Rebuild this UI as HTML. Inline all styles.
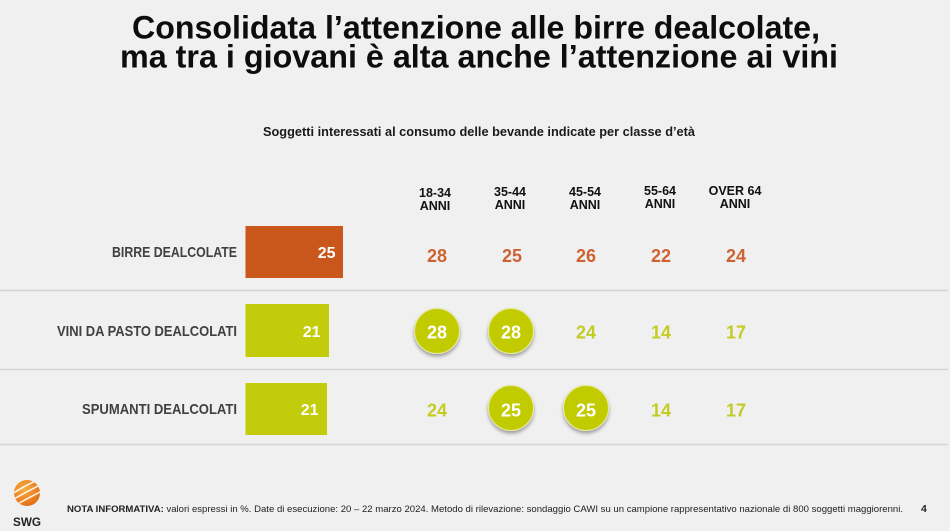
<!DOCTYPE html>
<html>
<head>
<meta charset="utf-8">
<style>
  html,body{margin:0;padding:0;background:#f0f0f0;}
  svg{display:block;}
  text{font-family:"Liberation Sans", Arial, sans-serif;}
</style>
</head>
<body>
<svg width="950" height="531" viewBox="0 0 950 531" xmlns="http://www.w3.org/2000/svg">
  <defs>
    <filter id="sh" x="-40%" y="-40%" width="180%" height="190%">
      <feDropShadow dx="0" dy="2.5" stdDeviation="1.8" flood-color="#000" flood-opacity="0.35"/>
    </filter>
    <radialGradient id="lg" cx="40%" cy="35%" r="70%">
      <stop offset="0" stop-color="#f8b040"/>
      <stop offset="1" stop-color="#e56a14"/>
    </radialGradient>
    <clipPath id="lc"><circle cx="27" cy="493" r="13"/></clipPath>
  </defs>
  <rect width="950" height="531" fill="#f0f0f0"/>

  <!-- Title -->
  <text x="132" y="38.5" font-size="32" font-weight="bold" fill="#0d0d0d" textLength="688" lengthAdjust="spacingAndGlyphs">Consolidata l’attenzione alle birre dealcolate,</text>
  <text x="120" y="67.5" font-size="32" font-weight="bold" fill="#0d0d0d" textLength="718" lengthAdjust="spacingAndGlyphs">ma tra i giovani è alta anche l’attenzione ai vini</text>

  <!-- Subtitle -->
  <text x="263" y="136" font-size="12.5" font-weight="bold" fill="#1a1a1a" textLength="432" lengthAdjust="spacingAndGlyphs">Soggetti interessati al consumo delle bevande indicate per classe d’età</text>

  <!-- Column headers -->
  <g font-size="12.5" font-weight="bold" fill="#111" text-anchor="middle">
    <text x="435" y="197">18-34</text><text x="435" y="210">ANNI</text>
    <text x="510" y="196">35-44</text><text x="510" y="209">ANNI</text>
    <text x="585" y="196">45-54</text><text x="585" y="209">ANNI</text>
    <text x="660" y="195">55-64</text><text x="660" y="208">ANNI</text>
    <text x="735" y="195">OVER 64</text><text x="735" y="208">ANNI</text>
  </g>

  <!-- Separator lines -->
  <g stroke="#d4d4d4" stroke-width="1.5">
    <line x1="0" y1="290.5" x2="948" y2="290.5"/>
    <line x1="0" y1="369.5" x2="948" y2="369.5"/>
    <line x1="0" y1="444.5" x2="948" y2="444.5"/>
  </g>

  <!-- Row labels -->
  <g font-size="15" font-weight="bold" fill="#404040">
    <text x="112" y="257" textLength="125" lengthAdjust="spacingAndGlyphs">BIRRE DEALCOLATE</text>
    <text x="57" y="336" textLength="180" lengthAdjust="spacingAndGlyphs">VINI DA PASTO DEALCOLATI</text>
    <text x="82" y="414" textLength="155" lengthAdjust="spacingAndGlyphs">SPUMANTI DEALCOLATI</text>
  </g>

  <!-- Bars -->
  <rect x="245.5" y="226" width="97.5" height="52" fill="#c9561a"/>
  <rect x="245.5" y="304" width="83.5" height="53" fill="#c3cc0b"/>
  <rect x="245.5" y="383" width="81.5" height="52" fill="#c3cc0b"/>
  <g font-size="16" font-weight="bold" fill="#fff" text-anchor="end">
    <text x="335.5" y="258">25</text>
    <text x="320.5" y="337">21</text>
    <text x="318.5" y="415">21</text>
  </g>

  <!-- Circles -->
  <g fill="#c2cb05" stroke="#e6ea9a" stroke-width="1" filter="url(#sh)">
    <circle cx="437" cy="331" r="22.5"/>
    <circle cx="511" cy="331" r="22.5"/>
    <circle cx="511" cy="408" r="22.5"/>
    <circle cx="586" cy="408" r="22.5"/>
  </g>

  <!-- Row 1 values -->
  <g font-size="18" font-weight="bold" fill="#cf6233" text-anchor="middle">
    <text x="437" y="262">28</text>
    <text x="512" y="262">25</text>
    <text x="586" y="262">26</text>
    <text x="661" y="262">22</text>
    <text x="736" y="262">24</text>
  </g>
  <!-- Row 2 values -->
  <g font-size="18" font-weight="bold" text-anchor="middle">
    <text x="437" y="338.5" fill="#fff">28</text>
    <text x="511" y="338.5" fill="#fff">28</text>
    <text x="586" y="338.5" fill="#c3cc22">24</text>
    <text x="661" y="338.5" fill="#c3cc22">14</text>
    <text x="736" y="338.5" fill="#c3cc22">17</text>
  </g>
  <!-- Row 3 values -->
  <g font-size="18" font-weight="bold" text-anchor="middle">
    <text x="437" y="416.5" fill="#c3cc22">24</text>
    <text x="511" y="416.5" fill="#fff">25</text>
    <text x="586" y="416.5" fill="#fff">25</text>
    <text x="661" y="416.5" fill="#c3cc22">14</text>
    <text x="736" y="416.5" fill="#c3cc22">17</text>
  </g>

  <!-- Logo -->
  <circle cx="27" cy="493" r="13" fill="url(#lg)"/>
  <g clip-path="url(#lc)" stroke="#fff" stroke-width="1.6" fill="none" opacity="0.9">
    <path d="M12 494 Q24 486 42 478"/>
    <path d="M12 500 Q26 492 42 484"/>
    <path d="M14 506 Q28 498 42 491"/>
  </g>
  <text x="13" y="526" font-size="12" font-weight="bold" fill="#222" textLength="28" lengthAdjust="spacingAndGlyphs">SWG</text>

  <!-- Footer -->
  <text x="67" y="512" font-size="9.5" fill="#222" textLength="836" lengthAdjust="spacingAndGlyphs"><tspan font-weight="bold">NOTA INFORMATIVA:</tspan> valori espressi in %. Date di esecuzione: 20 – 22 marzo 2024. Metodo di rilevazione: sondaggio CAWI su un campione rappresentativo nazionale di 800 soggetti maggiorenni.</text>
  <text x="921" y="512" font-size="10.5" font-weight="bold" fill="#222">4</text>
</svg>
</body>
</html>
